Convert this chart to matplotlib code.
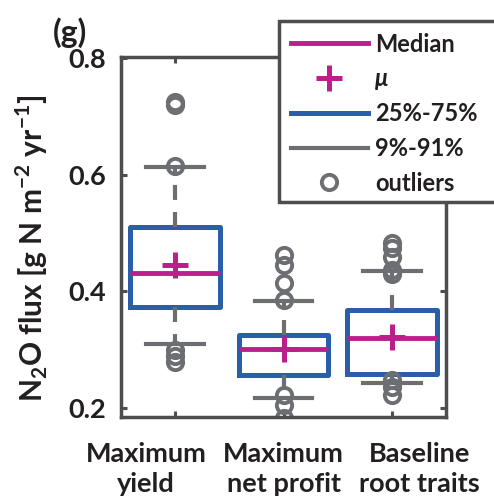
import matplotlib
matplotlib.use('Agg')
import matplotlib.pyplot as plt
from matplotlib.lines import Line2D
from matplotlib.patches import Rectangle
from matplotlib.transforms import ScaledTranslation

plt.rcParams['font.family'] = ['Lato', 'DejaVu Sans']
plt.rcParams['font.weight'] = 'bold'
plt.rcParams['font.size'] = 19

# box statistics per scenario
labels = ['Maximum\nyield', 'Maximum\nnet profit', 'Baseline\nroot traits']
medians = [0.431, 0.301, 0.320]
means = [0.445, 0.302, 0.322]
q1 = [0.373, 0.256, 0.258]
q3 = [0.510, 0.325, 0.368]
whislo = [0.309, 0.217, 0.243]
whishi = [0.613, 0.383, 0.435]
outliers = [
    [0.720, 0.725, 0.615, 0.300, 0.290, 0.279],
    [0.462, 0.445, 0.414, 0.385, 0.222, 0.205, 0.183],
    [0.483, 0.474, 0.459, 0.436, 0.430, 0.248, 0.236, 0.222],
]

magenta = '#BC1E8C'
blue = '#2A5EAB'
gray = '#6D6E71'
dark = '#4D4D4F'
ink = '#231F20'

stats = []
for i in range(len(labels)):
    stats.append(dict(med=medians[i], mean=means[i], q1=q1[i], q3=q3[i],
                      whislo=whislo[i], whishi=whishi[i], fliers=outliers[i]))

fig = plt.figure(figsize=(4.94, 4.98), dpi=100)
ax = fig.add_axes([121/494, 1-417/498, 325/494, 360/498])

ax.bxp(stats, positions=[1, 2, 3], widths=0.83, capwidths=0.53,
       showmeans=True,
       boxprops=dict(color=blue, linewidth=3.6),
       medianprops=dict(color=magenta, linewidth=3.5),
       whiskerprops=dict(color=gray, linewidth=3, linestyle=(0, (3.6, 2.9))),
       capprops=dict(color=gray, linewidth=3),
       flierprops=dict(marker='o', markerfacecolor='none', markeredgecolor=gray,
                       markersize=11, markeredgewidth=2.8),
       meanprops=dict(marker='+', markeredgecolor=magenta, markersize=19,
                      markeredgewidth=3.6))

ax.set_xlim(0.5, 3.5)
ax.set_ylim(0.1846, 0.8017)
ax.set_yticks([0.2, 0.4, 0.6, 0.8])
ax.set_yticklabels(['0.2', '0.4', '0.6', '0.8'])
ax.set_xticks([1, 2, 3])
ax.set_xticklabels(labels, linespacing=1.3)
ax.tick_params(direction='in', length=4, width=2.2, color=dark,
               top=True, right=True, labelcolor=ink, labelsize=19.5)
ax.tick_params(axis='y', pad=11)
ax.tick_params(axis='x', pad=18)
# spread the outer category labels a little
for lab, dx in zip(ax.get_xticklabels(), [-29, 0, 28]):
    lab.set_transform(lab.get_transform() + ScaledTranslation(dx/100, 0, fig.dpi_scale_trans))
for s in ax.spines.values():
    s.set_color(dark)
    s.set_linewidth(2.5)

ax.set_ylabel(r'N$_\mathregular{2}$O flux [g N m$^\mathregular{-2}$ yr$^\mathregular{-1}$]',
              color=ink, fontweight='bold', fontsize=21.5)
ax.yaxis.set_label_coords(-0.218, 0.469)
fig.text(53/494, 1-33/498, '(g)', ha='left', va='center', color=ink, fontsize=23)

# legend box sitting over the top right corner
fig.add_artist(Rectangle((279/494, 1-202/498), 0.5, 181/498, transform=fig.transFigure,
                         facecolor='white', edgecolor=dark, linewidth=2.5,
                         clip_on=False, zorder=3))
handles = [
    Line2D([], [], color=magenta, linewidth=3.5),
    Line2D([], [], color=magenta, marker='+', linestyle='none', markersize=19,
           markeredgewidth=3.6),
    Line2D([], [], color=blue, linewidth=3.6),
    Line2D([], [], color=gray, linewidth=3),
    Line2D([], [], color=gray, marker='o', linestyle='none', markerfacecolor='none',
           markersize=11, markeredgewidth=2.8),
]
names = ['Median', 'μ', '25%-75%', '9%-91%', 'outliers']
leg = fig.legend(handles, names, loc='upper left', bbox_to_anchor=(274/494, 1-16/498),
                 frameon=False, handlelength=3.3, handletextpad=0.28,
                 labelspacing=0.5, borderpad=0.2, fontsize=17)
leg.set_zorder(4)
for t in leg.get_texts():
    t.set_color(ink)
leg.get_texts()[1].set_style('italic')

fig.savefig('out.png', dpi=100)
